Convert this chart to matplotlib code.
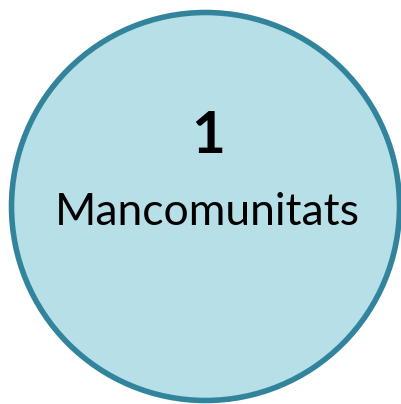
import matplotlib
matplotlib.use("Agg")
import matplotlib.pyplot as plt
from matplotlib.patches import Circle

count = "1"
label = "Mancomunitats"

fig = plt.figure(figsize=(4.02, 4.04), dpi=100)
ax = fig.add_axes([0, 0, 1, 1])
ax.set_xlim(0, 402)
ax.set_ylim(404, 0)
ax.set_aspect("equal")
ax.axis("off")

ax.add_patch(Circle((205.5, 206.5), 194, facecolor="#B7DFE8", edgecolor="#31849B", linewidth=4))

ax.text(208, 153, count, ha="center", va="baseline", fontsize=42, fontweight="bold", family="Lato", color="black")
ax.text(207.5, 225, label, ha="center", va="baseline", fontsize=32, family="Lato", color="black")

fig.savefig("out.png", dpi=100)
